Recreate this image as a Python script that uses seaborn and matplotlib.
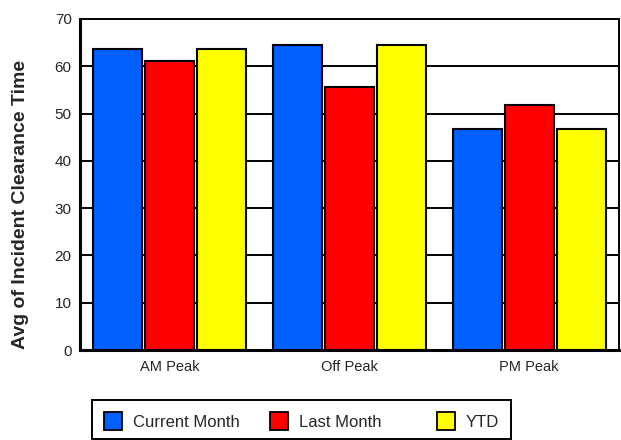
import numpy as np
import pandas as pd
import matplotlib
matplotlib.use("Agg")
import matplotlib.pyplot as plt
import seaborn as sns

periods = ["AM Peak", "Off Peak", "PM Peak"]
series = ["Current Month", "Last Month", "YTD"]
current_month = [63.6, 64.5, 46.8]
last_month = [61.1, 55.6, 51.8]
ytd = [63.6, 64.5, 46.8]
colors = ["#0060FF", "#FF0000", "#FFFF00"]

df = pd.DataFrame({
    "period": periods * 3,
    "series": [s for s in series for _ in periods],
    "value": current_month + last_month + ytd,
})

sns.set_style("white")
plt.rcParams["font.family"] = ["Liberation Sans", "DejaVu Sans"]

fig = plt.figure(figsize=(6.21, 4.4), dpi=100)
ax = fig.add_axes([80 / 621, 1 - 350 / 440, 539 / 621, 331 / 440])

sns.barplot(data=df, x="period", y="value", hue="series", palette=colors,
            saturation=1, edgecolor="black", linewidth=1.5, width=0.87, gap=0.06,
            ax=ax, legend=False, zorder=3)

ax.set_ylim(0, 70)
ax.set_yticks(range(0, 71, 10))
for y in range(10, 70, 10):
    ax.axhline(y, color="black", lw=1.4, zorder=1)
ax.set_xlabel("")
ax.set_ylabel("Avg of Incident Clearance Time", fontsize=14, fontweight="bold")
ax.yaxis.set_label_coords(-0.095, 0.44)
ax.tick_params(axis="y", labelsize=11, length=0, pad=6)
ax.tick_params(axis="x", labelsize=10.5, length=0, pad=7)
for side in ["top", "right"]:
    ax.spines[side].set_linewidth(1.4)
    ax.spines[side].set_color("black")
for side in ["left", "bottom"]:
    ax.spines[side].set_linewidth(2.2)
    ax.spines[side].set_color("black")

# legend box with three entries at fixed positions
fig.patches.append(plt.Rectangle((92 / 621, 1 - 439 / 440), 419 / 621, 39 / 440,
                                 transform=fig.transFigure, fill=False,
                                 edgecolor="black", lw=1.4))
for x, lab, c in zip([104, 270, 437], series, colors):
    h = plt.Rectangle((0, 0), 1, 1, facecolor=c, edgecolor="black", lw=1.3)
    fig.legend([h], [lab], loc="center left", bbox_to_anchor=(x / 621, 1 - 421 / 440),
               frameon=False, fontsize=12, handlelength=1.08, handleheight=1.2,
               handletextpad=0.65, borderpad=0, borderaxespad=0)

fig.savefig("out.png", dpi=100)
